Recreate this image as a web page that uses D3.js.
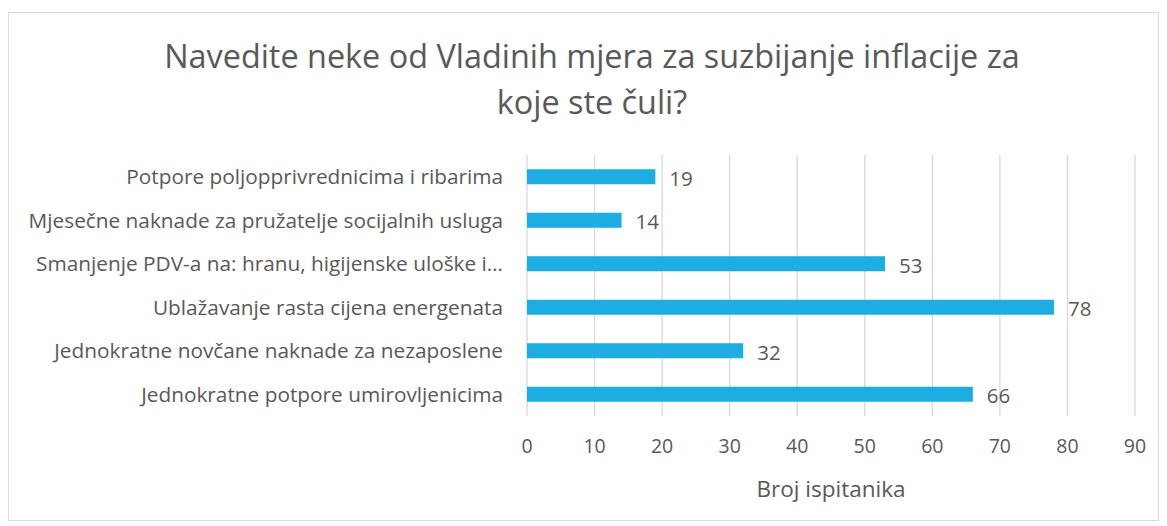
<html>
<head>
    <meta charset="utf-8">
    <title>Vladine mjere</title>
    <script src="https://d3js.org/d3.v7.min.js"></script>
</head>
<style>
    body { margin: 0; background: #fff; }
    text { font-family: "Open Sans", "Noto Sans", sans-serif; fill: #595959; }
    .grid line { stroke: #d9d9d9; stroke-width: 1.3px; }
    .bar { fill: #1eade2; }
</style>
<body>
<script>
    // data
    let categories = [
        "Potpore poljopprivrednicima i ribarima",
        "Mjesečne naknade za pružatelje socijalnih usluga",
        "Smanjenje PDV-a na: hranu, higijenske uloške i…",
        "Ublažavanje rasta cijena energenata",
        "Jednokratne novčane naknade za nezaposlene",
        "Jednokratne potpore umirovljenicima"
    ];
    let values = [19, 14, 53, 78, 32, 66];
    let xTicks = [0, 10, 20, 30, 40, 50, 60, 70, 80, 90];
    let titleLines = ["Navedite neke od Vladinih mjera za suzbijanje inflacije za", "koje ste čuli?"];
    let xTitle = "Broj ispitanika";

    let svgwidth = 1167, svgheight = 526;
    let margin = { top: 155, right: 32, bottom: 110, left: 527 };
    let plotW = 608, plotH = 261;

    let svg = d3.select("body").append("svg")
        .attr("width", svgwidth)
        .attr("height", svgheight);

    // chart border
    svg.append("rect")
        .attr("x", 8.5).attr("y", 12.5)
        .attr("width", 1150).attr("height", 508)
        .attr("fill", "none")
        .attr("stroke", "#d9d9d9");

    let g = svg.append("g")
        .attr("transform", "translate(" + margin.left + "," + margin.top + ")");

    let x = d3.scaleLinear().domain([0, 90]).range([0, plotW]);
    let y = d3.scaleBand().domain(categories).range([0, plotH])
        .paddingInner(0.655).paddingOuter(0.3275);

    // vertical gridlines
    g.append("g")
        .attr("class", "grid")
        .selectAll("line")
        .data(xTicks)
        .join("line")
        .attr("x1", d => x(d)).attr("x2", d => x(d))
        .attr("y1", 0).attr("y2", plotH);

    // bars
    g.selectAll(".bar")
        .data(values)
        .join("rect")
        .attr("class", "bar")
        .attr("x", x(0))
        .attr("y", (d, i) => y(categories[i]))
        .attr("width", d => x(d) - x(0))
        .attr("height", y.bandwidth());

    // value labels
    g.selectAll(".val")
        .data(values)
        .join("text")
        .attr("class", "val")
        .attr("x", d => x(d) + 14)
        .attr("y", (d, i) => y(categories[i]) + y.bandwidth() / 2 + 2)
        .attr("dy", "0.35em")
        .attr("font-size", 20.5)
        .text(d => d);

    // category labels
    g.selectAll(".cat")
        .data(categories)
        .join("text")
        .attr("class", "cat")
        .attr("x", -24)
        .attr("y", d => y(d) + y.bandwidth() / 2)
        .attr("dy", "0.35em")
        .attr("text-anchor", "end")
        .attr("font-size", 20.8)
        .text(d => d);

    // x tick labels
    g.selectAll(".tick-label")
        .data(xTicks)
        .join("text")
        .attr("class", "tick-label")
        .attr("x", d => x(d))
        .attr("y", 291)
        .attr("dy", "0.35em")
        .attr("text-anchor", "middle")
        .attr("font-size", 19.5)
        .text(d => d);

    // axis title
    g.append("text")
        .attr("x", x(45))
        .attr("y", 334)
        .attr("dy", "0.35em")
        .attr("text-anchor", "middle")
        .attr("font-size", 22.5)
        .text(xTitle);

    // chart title
    svg.selectAll(".title")
        .data(titleLines)
        .join("text")
        .attr("class", "title")
        .attr("x", 592)
        .attr("y", (d, i) => 57 + i * 46)
        .attr("dy", "0.35em")
        .attr("text-anchor", "middle")
        .attr("font-size", 32.4)
        .text(d => d);
</script>
</body>
</html>
